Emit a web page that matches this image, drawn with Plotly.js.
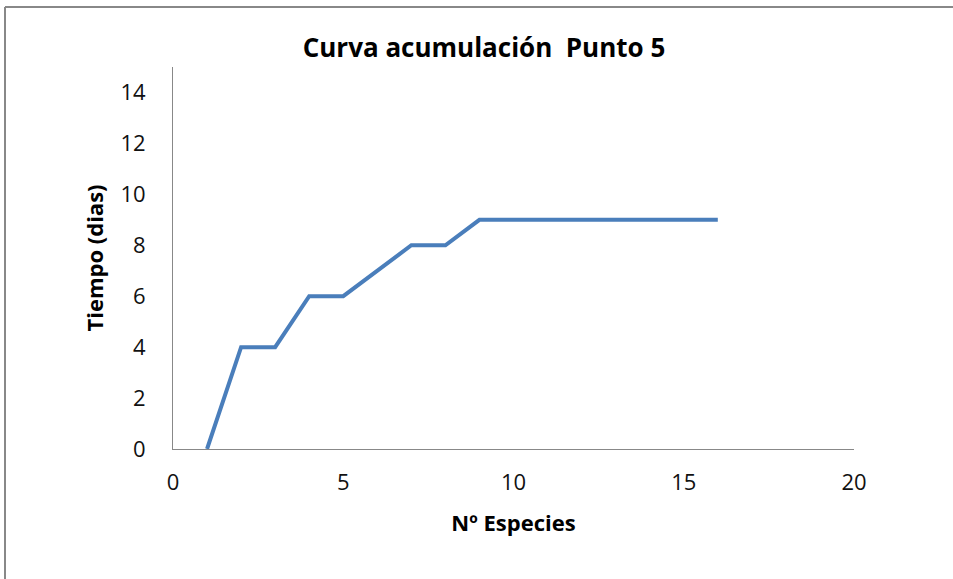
<!DOCTYPE html>
<html>
<head>
<meta charset="utf-8">
<script src="https://cdn.plot.ly/plotly-3.0.1.min.js"></script>
<style>html,body{margin:0;padding:0;background:#fff;}#chart{width:953px;height:579px;}</style>
</head>
<body>
<div id="chart"></div>
<script>
var especies = [1, 2, 3, 4, 5, 6, 7, 8, 9, 10, 11, 12, 13, 14, 15, 16];
var tiempo = [0, 4, 4, 6, 6, 7, 8, 8, 9, 9, 9, 9, 9, 9, 9, 9];
var chartTitle = 'Curva acumulación  Punto 5';
var xTitle = 'Nº Especies';
var yTitle = 'Tiempo (dias)';

var fontFam = 'Open Sans, Liberation Sans, sans-serif';
var L = 173, R = 99, T = 67, B = 130;
var W = 953, H = 579;
var pw = W - L - R, ph = H - T - B;
var bx = (5 - L) / pw, by = 1 + (T - 7) / ph;

var data = [{
  x: especies, y: tiempo, type: 'scatter', mode: 'lines',
  line: {color: '#4A7EBB', width: 4},
  hoverinfo: 'none'
}];
var layout = {
  width: W, height: H,
  margin: {l: L, r: R, t: T, b: B, pad: 0},
  paper_bgcolor: '#fff', plot_bgcolor: '#fff',
  showlegend: false,
  title: {text: '<b>' + chartTitle + '</b>', x: 484 / W, xref: 'container', xanchor: 'center',
          y: 1 - 48 / H, yref: 'container', yanchor: 'middle',
          font: {family: fontFam, size: 26, color: '#000'}},
  xaxis: {range: [0, 20], dtick: 5, tick0: 0, showgrid: false, zeroline: false,
          showline: true, linecolor: '#888', linewidth: 1, ticks: '',
          ticklabelstandoff: 14,
          tickfont: {family: fontFam, size: 22, color: '#111'},
          title: {text: '<b>' + xTitle + '</b>', standoff: 20, font: {family: fontFam, size: 22, color: '#000'}}},
  yaxis: {range: [0, 15], dtick: 2, tick0: 0, showgrid: false, zeroline: false,
          showline: true, linecolor: '#888', linewidth: 1, ticks: '',
          ticklabelstandoff: 22,
          tickfont: {family: fontFam, size: 22, color: '#111'},
          title: {text: '<b>' + yTitle + '</b>', standoff: 10, font: {family: fontFam, size: 22, color: '#000'}}},
  shapes: [
    {type: 'line', xref: 'paper', yref: 'paper', x0: bx, x1: bx, y0: -1, y1: by, line: {color: '#888', width: 2}},
    {type: 'line', xref: 'paper', yref: 'paper', x0: bx, x1: 2, y0: by, y1: by, line: {color: '#888', width: 2}}
  ]
};
Plotly.newPlot('chart', data, layout, {displayModeBar: false, staticPlot: true});
</script>
</body>
</html>
